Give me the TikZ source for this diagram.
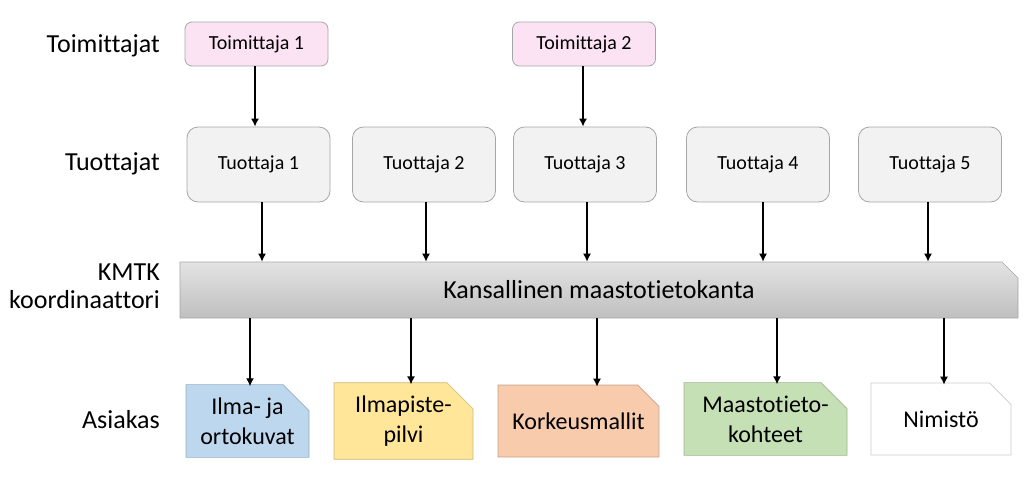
\documentclass[tikz,border=0pt]{standalone}
\usepackage{fontspec}
\setmainfont{Carlito}[Ligatures=NoCommon]
\usetikzlibrary{shapes.misc,arrows.meta}
\definecolor{pinkf}{HTML}{FBE3F4}
\definecolor{greyf}{HTML}{F2F2F2}
\definecolor{edge}{HTML}{A6A6A6}
\definecolor{bluef}{HTML}{BDD7EE}
\definecolor{yellowf}{HTML}{FFE699}
\definecolor{orangef}{HTML}{F8CBAD}
\definecolor{greenf}{HTML}{C5E0B4}
\begin{document}
\begin{tikzpicture}[x=1pt,y=-1pt,
  toim/.style={draw=edge, line width=0.8pt, fill=pinkf, rounded corners=7pt,
    minimum width=143pt, minimum height=44pt, inner sep=0pt, font=\fontsize{20}{24}\selectfont},
  tuot/.style={draw=edge, line width=0.8pt, fill=greyf, rounded corners=11pt,
    minimum width=143pt, minimum height=75pt, inner sep=0pt, font=\fontsize{20}{24}\selectfont},
  lbl/.style={anchor=east, align=right, inner sep=0pt, font=\fontsize{26}{28}\selectfont},
  outbox/.style={chamfered rectangle, chamfered rectangle corners=north east,
    chamfered rectangle xsep=13pt, chamfered rectangle ysep=13pt,
    draw=#1!80!black, line width=0.6pt, fill=#1, minimum height=72pt, inner sep=0pt,
    align=center, font=\fontsize{24}{30}\selectfont},
  arr/.style={-{Latex[length=8pt,width=8pt]}, line width=1.4pt, black}
]
\useasboundingbox (0,0) rectangle (1024,482);

% left labels
\node[lbl] (lToim) at (160,46) {Toimittajat};
\node[lbl] (lTuot) at (160,164) {Tuottajat};
\node[lbl] (lKmtk) at (160,286) {KMTK\\koordinaattori};
\node[lbl] (lAsi) at (160,420) {Asiakas};

% suppliers
\node[toim] (toim1) at (256.5,44) {Toimittaja 1};
\node[toim] (toim2) at (584,44) {Toimittaja 2};

% producers
\node[tuot] (tuot1) at (258.5,164.5) {Tuottaja 1};
\node[tuot] (tuot2) at (424,164.5) {Tuottaja 2};
\node[tuot] (tuot3) at (585,164.5) {Tuottaja 3};
\node[tuot] (tuot4) at (758,164.5) {Tuottaja 4};
\node[tuot] (tuot5) at (930,164.5) {Tuottaja 5};

% database bar
\node[chamfered rectangle, chamfered rectangle corners=north east,
  chamfered rectangle xsep=8pt, chamfered rectangle ysep=8pt,
  draw=edge, line width=0.6pt, top color=black!11, bottom color=black!25,
  minimum width=838pt, minimum height=56pt, inner sep=0pt,
  font=\fontsize{26}{30}\selectfont] (bar) at (599,290) {Kansallinen maastotietokanta};

% customer products
\node[outbox=bluef, minimum width=123pt] (c1) at (247.5,421) {Ilma- ja\\ortokuvat};
\node[outbox=yellowf, minimum width=139pt] (c2) at (403.5,421) {Ilmapiste-\\pilvi};
\node[outbox=orangef, minimum width=161pt] (c3) at (578.5,421) {Korkeusmallit};
\node[outbox=greenf, minimum width=163pt] (c4) at (765.5,419) {Maastotieto-\\kohteet};
\node[outbox=white, minimum width=140pt] (c5) at (941,419) {Nimistö};

% x positions of connectors
\coordinate (a1) at (255,0);
\coordinate (a2) at (583,0);
\coordinate (b1) at (262,0);
\coordinate (b2) at (426,0);
\coordinate (b3) at (587,0);
\coordinate (b4) at (763,0);
\coordinate (b5) at (928,0);
\coordinate (d1) at (250,0);
\coordinate (d2) at (411,0);
\coordinate (d3) at (597,0);
\coordinate (d4) at (777,0);
\coordinate (d5) at (944,0);

\draw[arr] (toim1.south -| a1) -- (tuot1.north -| a1);
\draw[arr] (toim2.south -| a2) -- (tuot3.north -| a2);

\draw[arr] (tuot1.south -| b1) -- (bar.north -| b1);
\draw[arr] (tuot2.south -| b2) -- (bar.north -| b2);
\draw[arr] (tuot3.south -| b3) -- (bar.north -| b3);
\draw[arr] (tuot4.south -| b4) -- (bar.north -| b4);
\draw[arr] (tuot5.south -| b5) -- (bar.north -| b5);

\draw[arr] (bar.south -| d1) -- ([yshift=-2pt]c1.north -| d1);
\draw[arr] (bar.south -| d2) -- ([yshift=-2pt]c2.north -| d2);
\draw[arr] (bar.south -| d3) -- ([yshift=-2pt]c3.north -| d3);
\draw[arr] (bar.south -| d4) -- ([yshift=-2pt]c4.north -| d4);
\draw[arr] (bar.south -| d5) -- ([yshift=-2pt]c5.north -| d5);
\end{tikzpicture}
\end{document}
